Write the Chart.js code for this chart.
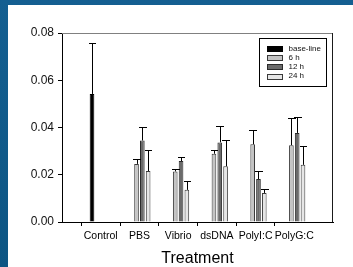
<!DOCTYPE html>
<html>
<head>
<meta charset="utf-8">
<script src="https://cdn.jsdelivr.net/npm/chart.js@4/dist/chart.umd.min.js"></script>
<style>
  html, body { margin: 0; padding: 0; }
  body { width: 353px; height: 267px; background: linear-gradient(180deg, #145f91 0%, #0d5583 100%); position: relative; overflow: hidden; }
  #wrap { position: absolute; left: 8px; top: 5px; width: 345px; height: 262px; background: #ffffff; }
  canvas { position: absolute; left: 0; top: 0; }
</style>
</head>
<body>
<div id="wrap"><canvas id="c" width="345" height="262"></canvas></div>
<script>
// ---- data ----
const categories = ['Control', 'PBS', 'Vibrio', 'dsDNA', 'PolyI:C', 'PolyG:C'];
const seriesNames = ['base-line', '6 h', '12 h', '24 h'];
const baseline    = [0.0542, null, null, null, null, null];
const baselineErr = [0.0214, null, null, null, null, null];
const h6     = [null, 0.0246, 0.0214, 0.0289, 0.0329, 0.0325];
const h6Err  = [null, 0.0019, 0.0012, 0.0017, 0.0061, 0.0116];
const h12    = [null, 0.0345, 0.0258, 0.0337, 0.0182, 0.0377];
const h12Err = [null, 0.0059, 0.0016, 0.0071, 0.0035, 0.0066];
const h24    = [null, 0.0216, 0.0136, 0.0236, 0.0123, 0.0242];
const h24Err = [null, 0.0087, 0.0036, 0.0113, 0.0015, 0.0081];
const yTicks = [0, 0.02, 0.04, 0.06, 0.08];

// padded with an empty slot at each end (the axis leaves half-gaps there)
const pad = a => [null, ...a, null];
const labels = ['', ...categories, ''];
const fills   = ['#000000', '#c4c4c4', '#6b6b6b', '#e6e6e6'];
const borders = ['#000000', '#3a3a3a', '#2a2a2a', '#3a3a3a'];
const values = [baseline, h6, h12, h24];
const errs = [baselineErr, h6Err, h12Err, h24Err];

const FONT = '"Liberation Sans", Arial, sans-serif';

const errorBars = {
  id: 'errorBars',
  afterDatasetsDraw(chart) {
    const ctx = chart.ctx;
    const y = chart.scales.y;
    ctx.save();
    ctx.strokeStyle = '#000';
    ctx.lineWidth = 1;
    chart.data.datasets.forEach((ds, di) => {
      const meta = chart.getDatasetMeta(di);
      const e = pad(errs[di]);
      meta.data.forEach((bar, i) => {
        const v = ds.data[i];
        if (v == null || e[i] == null) return;
        const x = Math.round(bar.x) + 0.5;
        const y0 = y.getPixelForValue(v);
        const y1 = Math.round(y.getPixelForValue(v + e[i])) + 0.5;
        const half = bar.width / 2 + 1;
        ctx.beginPath();
        ctx.moveTo(x, y0);
        ctx.lineTo(x, y1);
        ctx.moveTo(Math.round(bar.x - half), y1);
        ctx.lineTo(Math.round(bar.x + half) + 1, y1);
        ctx.stroke();
      });
    });
    ctx.restore();
  }
};

const frame = {
  id: 'frame',
  afterDraw(chart) {
    const {ctx, chartArea: a} = chart;
    ctx.save();
    ctx.lineWidth = 1;
    ctx.strokeStyle = '#808080';
    ctx.beginPath();
    ctx.moveTo(Math.round(a.left), Math.round(a.top) + 0.5);
    ctx.lineTo(Math.round(a.right), Math.round(a.top) + 0.5);
    ctx.stroke();
    ctx.strokeStyle = '#1a1a1a';
    ctx.beginPath();
    ctx.moveTo(Math.round(a.right) - 0.5, Math.round(a.top));
    ctx.lineTo(Math.round(a.right) - 0.5, Math.round(a.bottom));
    ctx.stroke();

    // legend box
    const bx = Math.round(a.right) - 73.5, by = Math.round(a.top) + 5.5, bw = 67, bh = 48;
    ctx.fillStyle = '#fff';
    ctx.fillRect(bx, by, bw, bh);
    ctx.strokeStyle = '#000';
    ctx.strokeRect(bx, by, bw, bh);
    ctx.font = '8px ' + FONT;
    ctx.textBaseline = 'middle';
    seriesNames.forEach((name, i) => {
      const cy = by + 10 + i * 9.2;
      ctx.fillStyle = fills[i];
      ctx.fillRect(bx + 8, Math.round(cy - 2.5), 15, 5);
      ctx.strokeStyle = borders[i];
      ctx.strokeRect(bx + 8, Math.round(cy - 2.5) + 0.5, 15, 5);
      ctx.fillStyle = '#111';
      ctx.fillText(name, bx + 29, cy);
    });
    ctx.restore();
  }
};

new Chart(document.getElementById('c'), {
  type: 'bar',
  data: {
    labels: labels,
    datasets: seriesNames.map((name, i) => ({
      label: name,
      data: pad(values[i]),
      backgroundColor: fills[i],
      borderColor: borders[i],
      borderWidth: 1,
      borderSkipped: 'bottom',
      categoryPercentage: 0.6,
      barPercentage: 0.8
    }))
  },
  options: {
    responsive: false,
    animation: false,
    devicePixelRatio: 1,
    layout: { padding: { left: 0, top: 28, right: 20, bottom: 0 } },
    plugins: { legend: { display: false }, tooltip: { enabled: false } },
    scales: {
      x: {
        type: 'category',
        offset: false,
        afterFit: s => { s.height = 45; },
        grid: {
          drawOnChartArea: false,
          drawTicks: true,
          tickLength: 4,
          tickColor: c => (c.index === 0 || c.index === labels.length - 1) ? 'rgba(0,0,0,0)' : '#000'
        },
        border: { display: true, color: '#000', width: 1 },
        ticks: { color: '#000', font: { family: FONT, size: 10.5 }, padding: 4, maxRotation: 0, autoSkip: false },
        title: { display: true, text: 'Treatment', color: '#000', font: { family: FONT, size: 16, lineHeight: 1 }, padding: { top: 0, bottom: 0 } }
      },
      y: {
        min: 0, max: 0.08,
        afterFit: s => { s.width = 54; },
        afterBuildTicks: s => { s.ticks = yTicks.map(v => ({ value: v })); },
        grid: { drawOnChartArea: false, drawTicks: true, tickLength: 4, tickColor: '#000' },
        border: { display: true, color: '#000', width: 1 },
        ticks: { color: '#111', font: { family: FONT, size: 12 }, padding: 4, callback: v => v.toFixed(2) }
      }
    }
  },
  plugins: [errorBars, frame]
});
</script>
</body>
</html>
